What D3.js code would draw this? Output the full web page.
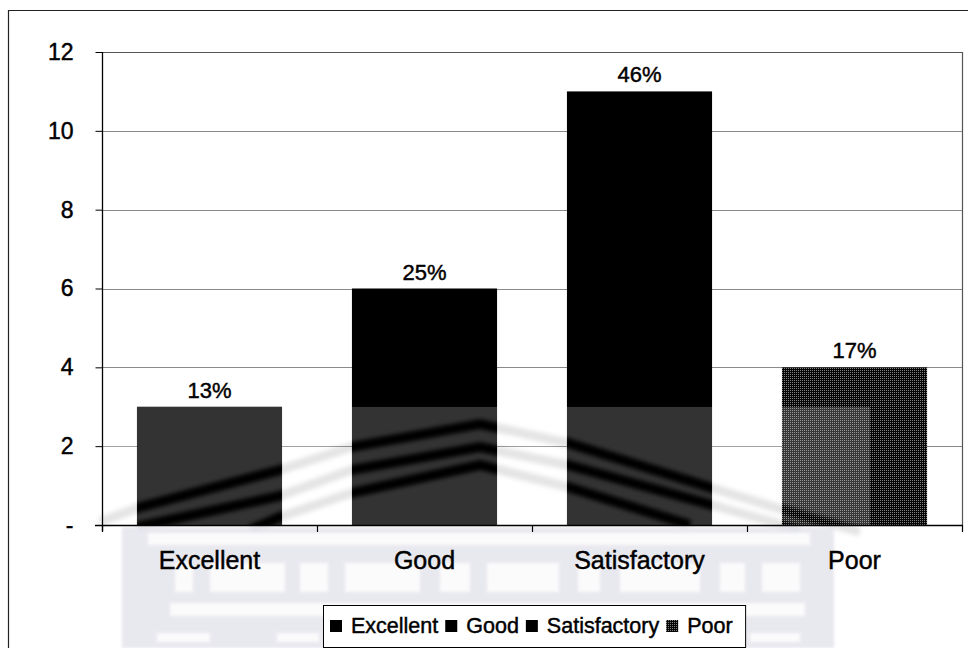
<!DOCTYPE html>
<html>
<head>
<meta charset="utf-8">
<script src="https://cdn.jsdelivr.net/npm/d3@7"></script>
<style>
  html, body { margin: 0; padding: 0; background: #fff; }
  svg { display: block; font-family: "Liberation Sans", Arial, sans-serif; }
  .lbl { stroke: #000; stroke-width: 0.45px; }
</style>
</head>
<body>
<svg id="chart" width="968" height="648"></svg>
<script>
// Ratings and number of responses
const categories = ["Excellent", "Good", "Satisfactory", "Poor"];
const counts = [3, 6, 11, 4];
const yTicks = [0, 2, 4, 6, 8, 10, 12];
const legendLabels = ["Excellent", "Good", "Satisfactory", "Poor"];

const total = d3.sum(counts);
const pctLabel = v => Math.round(v / total * 100) + "%";

const W = 968, H = 648;
const plot = { left: 102, right: 962, top: 52, bottom: 525 };

const svg = d3.select("#chart");
const defs = svg.append("defs");

// dotted fill for the "Poor" series
const pat = defs.append("pattern").attr("id", "dots")
  .attr("width", 2).attr("height", 2).attr("patternUnits", "userSpaceOnUse");
pat.append("rect").attr("width", 2).attr("height", 2).attr("fill", "#050505");
pat.append("rect").attr("width", 1).attr("height", 1).attr("fill", "#808080");

defs.append("filter").attr("id", "soft").attr("x", "-10%").attr("y", "-10%")
  .attr("width", "120%").attr("height", "120%")
  .append("feGaussianBlur").attr("stdDeviation", 2);
defs.append("filter").attr("id", "soft2").attr("x", "-10%").attr("y", "-10%")
  .attr("width", "120%").attr("height", "120%")
  .append("feGaussianBlur").attr("stdDeviation", 1.6);

const x = d3.scaleBand().domain(categories)
  .range([plot.left, plot.right]).paddingInner(0.325).paddingOuter(0.1625);
const y = d3.scaleLinear().domain([0, 12]).range([plot.bottom, plot.top]);

const fills = ["#000", "#000", "#000", "url(#dots)"];

// outer frame
svg.append("line").attr("x1", 8.5).attr("x2", 8.5).attr("y1", 10).attr("y2", H)
  .attr("stroke", "#222").attr("stroke-width", 1.2);
svg.append("line").attr("x1", 8).attr("x2", W).attr("y1", 10.5).attr("y2", 10.5)
  .attr("stroke", "#222").attr("stroke-width", 1.2);

// --- faint building emblem behind the plot ---
const roofLines = [
  [[100, 522], [137, 508], [280, 470], [351, 447], [480, 424], [568, 443], [712, 488], [790, 512], [860, 532]],
  [[137, 527], [280, 496], [351, 470], [480, 447], [568, 465], [712, 505], [800, 530]],
  [[250, 530], [280, 517], [351, 493], [480, 465], [568, 487], [690, 525]]
];
const line = d3.line();
const emblem = svg.append("g").attr("filter", "url(#soft)");
emblem.selectAll("path.roof").data(roofLines).join("path")
  .attr("d", line).attr("fill", "none")
  .attr("stroke", "#000").attr("stroke-opacity", 0.1).attr("stroke-width", 10);

const facade = svg.append("g").attr("filter", "url(#soft2)");
facade.append("rect").attr("x", 122).attr("y", 527).attr("width", 712).attr("height", 121)
  .attr("fill", "#e3e3eb");
const whites = [
  [148, 533, 662, 12],
  [175, 563, 18, 29], [210, 563, 75, 29], [300, 563, 28, 29], [345, 563, 75, 29],
  [440, 563, 30, 29], [487, 563, 72, 29], [578, 563, 22, 29], [620, 563, 80, 29],
  [720, 563, 25, 29], [762, 563, 38, 29],
  [170, 603, 635, 13],
  [157, 633, 53, 9], [277, 633, 42, 9], [420, 633, 50, 9], [640, 633, 60, 9], [750, 633, 50, 9]
];
facade.selectAll("rect.w").data(whites).join("rect")
  .attr("x", d => d[0]).attr("y", d => d[1]).attr("width", d => d[2]).attr("height", d => d[3])
  .attr("fill", "#fafafc");

// gridlines
svg.append("g").selectAll("line").data(yTicks.filter(t => t > 0 && t < 12)).join("line")
  .attr("x1", plot.left).attr("x2", plot.right)
  .attr("y1", d => Math.round(y(d)) + 0.5).attr("y2", d => Math.round(y(d)) + 0.5)
  .attr("stroke", "#8a8a8a").attr("stroke-width", 1);

// plot frame (top and right)
svg.append("path")
  .attr("d", `M${plot.left},${plot.top + 0.5}H${plot.right + 0.5}V${plot.bottom}`)
  .attr("fill", "none").attr("stroke", "#555").attr("stroke-width", 1.2);

// bars
svg.append("g").selectAll("rect").data(counts).join("rect")
  .attr("x", (d, i) => x(categories[i]))
  .attr("y", d => y(d))
  .attr("width", x.bandwidth())
  .attr("height", d => y(0) - y(d))
  .attr("fill", (d, i) => fills[i]);

// emblem wash over the bars: lightens the lower part, roof lines stay dark
const mask = defs.append("mask").attr("id", "washMask")
  .attr("maskUnits", "userSpaceOnUse").attr("x", 0).attr("y", 0).attr("width", W).attr("height", H);
mask.append("rect").attr("x", 100).attr("y", y(3)).attr("width", 770).attr("height", H - y(3))
  .attr("fill", "#fff");
mask.append("g").attr("filter", "url(#soft)")
  .selectAll("path").data(roofLines).join("path")
  .attr("d", line).attr("fill", "none").attr("stroke", "#000").attr("stroke-width", 10);
svg.append("rect").attr("x", 100).attr("y", y(3)).attr("width", 770).attr("height", H - y(3))
  .attr("fill", "#fff").attr("opacity", 0.2).attr("mask", "url(#washMask)");

// value labels
svg.append("g").selectAll("text").data(counts).join("text")
  .attr("class", "lbl")
  .attr("x", (d, i) => x(categories[i]) + x.bandwidth() / 2)
  .attr("y", d => y(d) - 9)
  .attr("text-anchor", "middle")
  .attr("font-size", 22).attr("fill", "#000")
  .text(d => pctLabel(d));

// y axis
const yAxis = d3.axisLeft(y).tickValues(yTicks)
  .tickFormat(d => d === 0 ? "-" : d).tickSize(7).tickPadding(22);
const gy = svg.append("g").attr("transform", `translate(${plot.left + 0.5},0)`).call(yAxis);
gy.select(".domain").attr("stroke", "#000").attr("stroke-width", 1.3)
  .attr("d", `M0,${plot.top}V${plot.bottom + 6}`);
gy.selectAll(".tick line").attr("stroke", "#000");
gy.selectAll(".tick text").attr("class", "lbl").attr("font-size", 23).attr("fill", "#000")
  .attr("font-family", "'Liberation Sans', Arial, sans-serif");

// x axis line, boundary ticks and category labels
svg.append("line").attr("x1", plot.left - 7).attr("x2", plot.right + 1)
  .attr("y1", plot.bottom + 0.5).attr("y2", plot.bottom + 0.5)
  .attr("stroke", "#000").attr("stroke-width", 1.3);
const step = x.step();
const bounds = d3.range(categories.length + 1).map(i => plot.left + i * step);
svg.append("g").selectAll("line").data(bounds).join("line")
  .attr("x1", d => d + 0.5).attr("x2", d => d + 0.5)
  .attr("y1", plot.bottom).attr("y2", plot.bottom + 7)
  .attr("stroke", "#000").attr("stroke-width", 1.2);
svg.append("g").selectAll("text").data(categories).join("text")
  .attr("class", "lbl")
  .attr("x", d => x(d) + x.bandwidth() / 2)
  .attr("y", 569)
  .attr("text-anchor", "middle")
  .attr("font-size", 25).attr("fill", "#000")
  .text(d => d);

// legend
const lg = svg.append("g");
const box = lg.append("rect").attr("x", 323.5).attr("y", 605.5).attr("height", 42)
  .attr("fill", "#fff").attr("stroke", "#000").attr("stroke-width", 1);
let cx = 330;
legendLabels.forEach((name, i) => {
  lg.append("rect").attr("x", cx).attr("y", 620).attr("width", 12).attr("height", 12)
    .attr("fill", fills[i]);
  const t = lg.append("text").attr("class", "lbl").attr("x", cx + 21).attr("y", 633)
    .attr("font-size", 21.5).attr("fill", "#000").text(name);
  cx = cx + 21 + t.node().getComputedTextLength() + 7;
});
box.attr("width", cx + 6 - 323.5);
</script>
</body>
</html>
